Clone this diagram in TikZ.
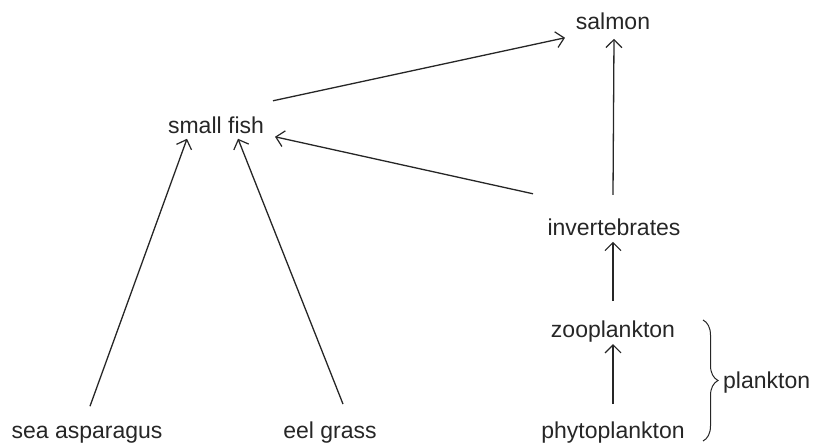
\documentclass[tikz,border=0pt]{standalone}
\usepackage{fontspec}
\setmainfont{Liberation Sans}
\usetikzlibrary{arrows.meta,calc,decorations.pathreplacing}
\begin{document}
\begin{tikzpicture}[x=1pt,y=-1pt,
  lab/.style={anchor=base,inner sep=0pt,font=\fontsize{23}{27}\selectfont,text=black!85},
  arr/.style={line width=1.3pt,draw=black!85,-{Straight Barb[length=8pt,width=16pt,line width=1.2pt]}},
  ]
\useasboundingbox (0,0) rectangle (819,444);
\node[lab] (salmon) at (613,30) {salmon};
\node[lab] (sf) at (216,133) {small fish};
\node[lab] (inv) at (614,235) {invertebrates};
\node[lab] (zoo) at (613,337) {zooplankton};
\node[lab] (phy) at (613,438) {phytoplankton};
\node[lab] (sa) at (87,438) {sea asparagus};
\node[lab] (eg) at (330,438) {eel grass};
\node[lab,anchor=base west] (pk) at (723,388) {plankton};
\coordinate (bt) at (703,320);
\coordinate (bb) at (703,441);
\draw[arr] ($(sf)+(57,-24)$) -- ($(salmon)+(-48,16)$);
\draw[arr] ($(inv)+(-81,-33)$) -- ($(sf)+(59,12)$);
\draw[arr] ($(sa)+(3,-28)$) -- ($(sf)+(-29,14)$);
\draw[arr] ($(eg)+(13,-28)$) -- ($(sf)+(22,14)$);
\draw[arr] ($(inv)+(-1,-32)$) -- ($(salmon)+(1,17)$);
\draw[arr] ($(zoo)+(0,-30)$) -- ($(inv)+(-1,15)$);
\draw[arr] ($(phy)+(0,-28)$) -- ($(zoo)+(0,13)$);
\draw[line width=1pt,draw=black!85,decorate,decoration={brace,amplitude=15pt,aspect=0.5}] (bt) -- (bb);
\end{tikzpicture}
\end{document}
